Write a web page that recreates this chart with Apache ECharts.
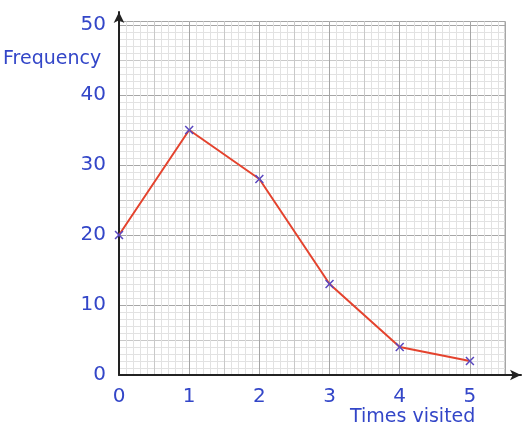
<!DOCTYPE html>
<html>
<head>
<meta charset="utf-8">
<script src="https://cdn.jsdelivr.net/npm/echarts@6/dist/echarts.min.js"></script>
<style>
html,body{margin:0;padding:0;background:#fff;}
#chart{width:526px;height:442px;}
</style>
</head>
<body>
<div id="chart"></div>
<script>
var timesVisited = [0, 1, 2, 3, 4, 5];
var frequency = [20, 35, 28, 13, 4, 2];
var xTickLabels = ['0', '1', '2', '3', '4', '5'];
var yTickLabels = ['0', '10', '20', '30', '40', '50'];
var xAxisName = 'Times visited';
var yAxisName = 'Frequency';

var textBlue = '#3346c8';
var fontFam = '"Comic Sans MS", "DejaVu Sans", sans-serif';

var chart = echarts.init(document.getElementById('chart'));

function gridAxis(pos, gridIndex, interval, color, max) {
  return {
    type: 'value', gridIndex: gridIndex, position: pos, offset: 0, min: 0, max: max, interval: interval,
    axisLine: {show: false}, axisTick: {show: false}, axisLabel: {show: false},
    splitLine: {show: true, lineStyle: {color: color, width: 1}}
  };
}

var xMax = 5.5, yMax = 50.5;
var xs = [
  gridAxis('bottom', 0, 0.1, '#e2e2e2', xMax),
  gridAxis('bottom', 0, 0.5, '#c9c9c9', xMax),
  {
    type: 'value', gridIndex: 0, position: 'bottom', offset: 0, min: 0, max: xMax, interval: 1,
    axisLine: {show: false}, axisTick: {show: false},
    splitLine: {show: true, lineStyle: {color: '#a6a6a6', width: 1}},
    axisLabel: {
      show: true, margin: 12, color: textBlue, fontSize: 20, fontFamily: fontFam,
      showMaxLabel: false,
      formatter: function (v) { var i = timesVisited.indexOf(v); return i >= 0 ? xTickLabels[i] : ''; }
    }
  },
  {
    type: 'value', gridIndex: 1, position: 'bottom', offset: 0, min: 0, max: 1,
    axisLine: {show: true, symbol: ['none', 'arrow'], symbolSize: [8, 11], lineStyle: {color: '#222', width: 2}},
    axisTick: {show: false}, axisLabel: {show: false}, splitLine: {show: false}
  }
];
var ys = [
  gridAxis('left', 0, 1, '#e2e2e2', yMax),
  gridAxis('left', 0, 5, '#c9c9c9', yMax),
  {
    type: 'value', gridIndex: 0, position: 'left', offset: 0, min: 0, max: yMax, interval: 10,
    axisLine: {show: false}, axisTick: {show: false},
    splitLine: {show: true, lineStyle: {color: '#a6a6a6', width: 1}},
    axisLabel: {
      show: true, margin: 13, color: textBlue, fontSize: 20, fontFamily: fontFam,
      showMaxLabel: false,
      formatter: function (v) { var i = v / 10; return (Number.isInteger(i) && yTickLabels[i] !== undefined) ? yTickLabels[i] : ''; }
    }
  },
  {
    type: 'value', gridIndex: 1, position: 'left', offset: 0, min: 0, max: 1,
    axisLine: {show: true, symbol: ['none', 'arrow'], symbolSize: [8, 11], lineStyle: {color: '#222', width: 2}},
    axisTick: {show: false}, axisLabel: {show: false}, splitLine: {show: false}
  }
];

var xMark = 'path://M0,1.2L1.2,0L5,3.8L8.8,0L10,1.2L6.2,5L10,8.8L8.8,10L5,6.2L1.2,10L0,8.8L3.8,5Z';

chart.setOption({
  animation: false,
  backgroundColor: '#ffffff',
  title: [
    {text: yAxisName, left: -2, top: 45, textStyle: {color: textBlue, fontSize: 19, fontWeight: 'normal', fontFamily: fontFam}},
    {text: xAxisName, left: 345, top: 403, textStyle: {color: textBlue, fontSize: 19, fontWeight: 'normal', fontFamily: fontFam}}
  ],
  grid: [
    {left: 119, right: 21, top: 21.5, bottom: 67, show: true, borderColor: '#a6a6a6', borderWidth: 1, outerBoundsMode: 'none', containLabel: false},
    {left: 119, right: 5, top: 12, bottom: 67, show: false, outerBoundsMode: 'none', containLabel: false}
  ],
  xAxis: xs,
  yAxis: ys,
  series: [{
    type: 'line',
    xAxisIndex: 2, yAxisIndex: 2,
    data: timesVisited.map(function (t, i) { return [t, frequency[i]]; }),
    lineStyle: {color: '#e4432e', width: 2},
    symbol: xMark, symbolSize: 9,
    itemStyle: {color: '#5a48c0'},
    z: 5
  }]
});
</script>
</body>
</html>
